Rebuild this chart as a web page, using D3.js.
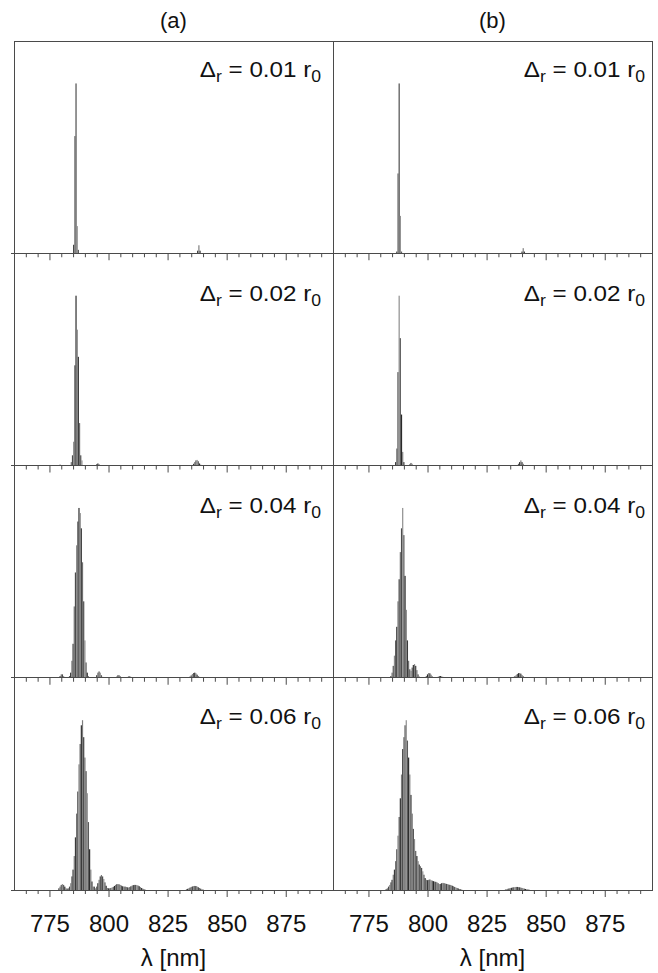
<!DOCTYPE html>
<html>
<head>
<meta charset="utf-8">
<script src="https://cdn.jsdelivr.net/npm/d3@7"></script>
<style>
  body { margin: 0; background: #fff; }
  text { font-family: Arial, "Liberation Sans", sans-serif; fill: #111; }
</style>
</head>
<body>
<div id="graph"></div>
<script>
var svgWidth = 658;
var svgHeight = 973;

// data
var columnTitles = ["(a)", "(b)"];
var deltaLabels = ["0.01", "0.02", "0.04", "0.06"];
var tickMajor = [775, 800, 825, 850, 875];
var tickMinor = [765, 770, 780, 785, 790, 795, 805, 810, 815, 820, 830, 835, 840, 845,
                 855, 860, 865, 870, 880, 885, 890];
var xTitleText = "λ [nm]";
var wlStep = 0.5;   // nm between neighbouring lines

// spectra: [start wavelength, intensities every wlStep]
var specA1 = [[785.25, [0.05, 0.69, 1.0, 0.16, 0.02]],
              [837.75, [0.015, 0.047, 0.015]]];
var specB1 = [[787.0, [0.01, 0.47, 1.0, 0.22, 0.01]],
              [840.0, [0.01, 0.03, 0.01]]];
var specA2 = [[779.5, [0.005]],
              [784.25, [0.02, 0.06, 0.14, 0.59, 1.0, 0.8, 0.64, 0.25, 0.06, 0.03]],
              [795.0, [0.008, 0.012, 0.008]],
              [836.0, [0.01, 0.02, 0.03, 0.033, 0.025, 0.012, 0.005]]];
var specB2 = [[786.5, [0.02, 0.1, 0.55, 1.0, 0.75, 0.3, 0.08, 0.02]],
              [792.5, [0.008, 0.015, 0.01]],
              [838.5, [0.01, 0.02, 0.03, 0.02, 0.01]]];
var specA3 = [[779.5, [0.01, 0.02, 0.02, 0.01]],
              [783.5, [0.01, 0.03, 0.1, 0.2, 0.42, 0.62, 0.78, 0.92, 1.0, 0.97, 0.88, 0.68, 0.45,
                       0.22, 0.09, 0.03, 0.01]],
              [795.0, [0.015, 0.03, 0.037, 0.03, 0.015, 0.005]],
              [803.5, [0.008, 0.015, 0.015, 0.008]],
              [808.0, [0.005, 0.008, 0.008, 0.005]],
              [834.0, [0.004, 0.008, 0.014, 0.022, 0.028, 0.03, 0.026, 0.018, 0.01, 0.005, 0.002]]];
var specB3 = [[784.5, [0.01, 0.03, 0.07, 0.13, 0.22, 0.3, 0.45, 0.58, 0.74, 0.88, 1.0, 0.84, 0.6,
                       0.4, 0.22, 0.1, 0.05, 0.04, 0.06, 0.075, 0.08, 0.07, 0.045, 0.02, 0.008]],
              [799.5, [0.01, 0.02, 0.028, 0.026, 0.018, 0.008]],
              [804.5, [0.006, 0.01, 0.01, 0.008, 0.005]],
              [836.5, [0.005, 0.01, 0.016, 0.022, 0.027, 0.028, 0.024, 0.016, 0.009, 0.004]]];
var specA4 = [[779.0, [0.01, 0.02, 0.03, 0.035, 0.03, 0.02, 0.01, 0.008]],
              [783.0, [0.01, 0.02, 0.04, 0.08, 0.12, 0.2, 0.31, 0.45, 0.58, 0.74, 0.86, 0.97, 1.0,
                       0.9, 0.78, 0.7, 0.57, 0.4, 0.24, 0.12, 0.05, 0.02]],
              [794.0, [0.02, 0.01, 0.02, 0.04, 0.06, 0.08, 0.088, 0.08, 0.065, 0.045, 0.025, 0.012]],
              [800.0, [0.01, 0.01, 0.012, 0.015, 0.018, 0.024, 0.03, 0.034, 0.035, 0.033, 0.03,
                       0.026, 0.022, 0.02, 0.02, 0.018, 0.016, 0.015, 0.017, 0.022, 0.026, 0.029,
                       0.03, 0.03, 0.029, 0.026, 0.022, 0.017, 0.012, 0.008, 0.005, 0.003]],
              [833.0, [0.004, 0.007, 0.01, 0.014, 0.018, 0.021, 0.023, 0.024, 0.023, 0.02, 0.016,
                       0.012, 0.008, 0.005, 0.003]]];
var specB4 = [[782.5, [0.005, 0.01, 0.02, 0.03, 0.045, 0.06, 0.09, 0.12, 0.17, 0.24, 0.32, 0.43,
                       0.54, 0.68, 0.83, 0.9, 0.97, 1.0, 0.88, 0.78, 0.68, 0.56, 0.45, 0.36, 0.3,
                       0.23, 0.2, 0.17, 0.15, 0.14, 0.13, 0.11, 0.09, 0.07, 0.06, 0.058, 0.06,
                       0.062, 0.058, 0.055, 0.052, 0.05, 0.048, 0.045, 0.04, 0.035, 0.036, 0.04,
                       0.042, 0.04, 0.038, 0.036, 0.035, 0.032, 0.03, 0.028, 0.025, 0.022, 0.018,
                       0.015, 0.012, 0.009, 0.006, 0.004, 0.002]],
              [833.0, [0.003, 0.005, 0.007, 0.009, 0.011, 0.013, 0.015, 0.016, 0.017, 0.018, 0.018,
                       0.017, 0.016, 0.014, 0.012, 0.01, 0.008, 0.006, 0.004, 0.003, 0.002]]];

var spectra = [[specA1, specB1], [specA2, specB2], [specA3, specB3], [specA4, specB4]];

// layout
var frameLeft = 14, frameRight = 652, frameTop = 41, frameBottom = 890;
var colWidth = (frameRight - frameLeft) / 2;
var rowHeight = (frameBottom - frameTop) / 4;
var labelPad = [12, 7];
var labelDrop = [36, 48, 47, 46];
var shades = ["#3a3a3a", "#707070", "#4c4c4c", "#8c8c8c", "#5a5a5a", "#2a2a2a", "#7e7e7e"];
var frameColor = "#4a4a4a";

var svg = d3.select("#graph")
	.append("svg")
	.attr("width", svgWidth)
	.attr("height", svgHeight);

var yScale = d3.scaleLinear().domain([0, 1.25]).range([rowHeight, 0]);

columnTitles.forEach(function(title, c) {
	var left = frameLeft + c * colWidth;
	var xScale = d3.scaleLinear().domain([760, 895]).range([left, left + colWidth]);

	// column title
	svg.append("text")
		.attr("x", left + colWidth / 2)
		.attr("y", 28)
		.attr("text-anchor", "middle")
		.attr("font-size", 22)
		.text(title);

	deltaLabels.forEach(function(lab, r) {
		var top = frameTop + r * rowHeight;
		var g = svg.append("g").attr("transform", "translate(0," + top + ")");

		// bars
		var bars = [];
		spectra[r][c].forEach(function(seg) {
			seg[1].forEach(function(v, i) {
				bars.push({ wl: seg[0] + i * wlStep, v: v });
			});
		});
		g.selectAll("rect")
			.data(bars)
			.enter().append("rect")
			.attr("x", function(d) { return xScale(d.wl - wlStep / 2); })
			.attr("width", function(d) { return xScale(d.wl + wlStep / 2) - xScale(d.wl - wlStep / 2); })
			.attr("y", function(d) { return yScale(d.v); })
			.attr("height", function(d) { return yScale(0) - yScale(d.v); })
			.attr("fill", function(d, i) { return shades[i % shades.length]; });

		// minor and major ticks below the baseline
		var axisG = g.append("g").attr("transform", "translate(0," + rowHeight + ")");
		axisG.append("g")
			.call(d3.axisBottom(xScale).tickValues(tickMinor).tickSize(4).tickSizeOuter(0).tickFormat(""));
		var majorG = axisG.append("g")
			.call(d3.axisBottom(xScale).tickValues(tickMajor).tickSize(7).tickSizeOuter(0)
				.tickPadding(18)
				.tickFormat(r === 3 ? d3.format("d") : ""));
		axisG.selectAll("path.domain").remove();
		axisG.selectAll(".tick line").attr("stroke", frameColor);
		majorG.selectAll("text")
			.attr("font-size", 24)
			.attr("font-family", "Arial, 'Liberation Sans', sans-serif")
			.attr("fill", "#111");

		// delta label
		var t = g.append("text")
			.attr("transform", "translate(" + (left + colWidth - labelPad[c]) + "," + labelDrop[r] + ") scale(1.1,1)")
			.attr("text-anchor", "end")
			.attr("font-size", 22);
		t.append("tspan").text("Δ");
		t.append("tspan").attr("font-size", 16).attr("dy", 5).text("r");
		t.append("tspan").attr("dy", -5).text(" = " + lab + " r");
		t.append("tspan").attr("font-size", 16).attr("dy", 5).text("0");
	});

	// x axis title
	svg.append("text")
		.attr("x", left + colWidth / 2)
		.attr("y", 966)
		.attr("text-anchor", "middle")
		.attr("font-size", 24)
		.text(xTitleText);
});

// frame: outer box, divider, baselines
var frame = svg.append("g")
	.attr("fill", "none")
	.attr("stroke", frameColor)
	.attr("stroke-width", 1)
	.attr("shape-rendering", "crispEdges");
frame.append("line")
	.attr("x1", frameLeft).attr("x2", frameRight)
	.attr("y1", frameTop).attr("y2", frameTop);
[frameLeft, frameLeft + colWidth, frameRight].forEach(function(x) {
	frame.append("line")
		.attr("x1", x).attr("x2", x)
		.attr("y1", frameTop).attr("y2", frameBottom);
});
deltaLabels.forEach(function(lab, r) {
	var y = frameTop + (r + 1) * rowHeight;
	frame.append("line")
		.attr("x1", frameLeft - 3).attr("x2", frameRight + 1)
		.attr("y1", y).attr("y2", y);
});
</script>
</body>
</html>
